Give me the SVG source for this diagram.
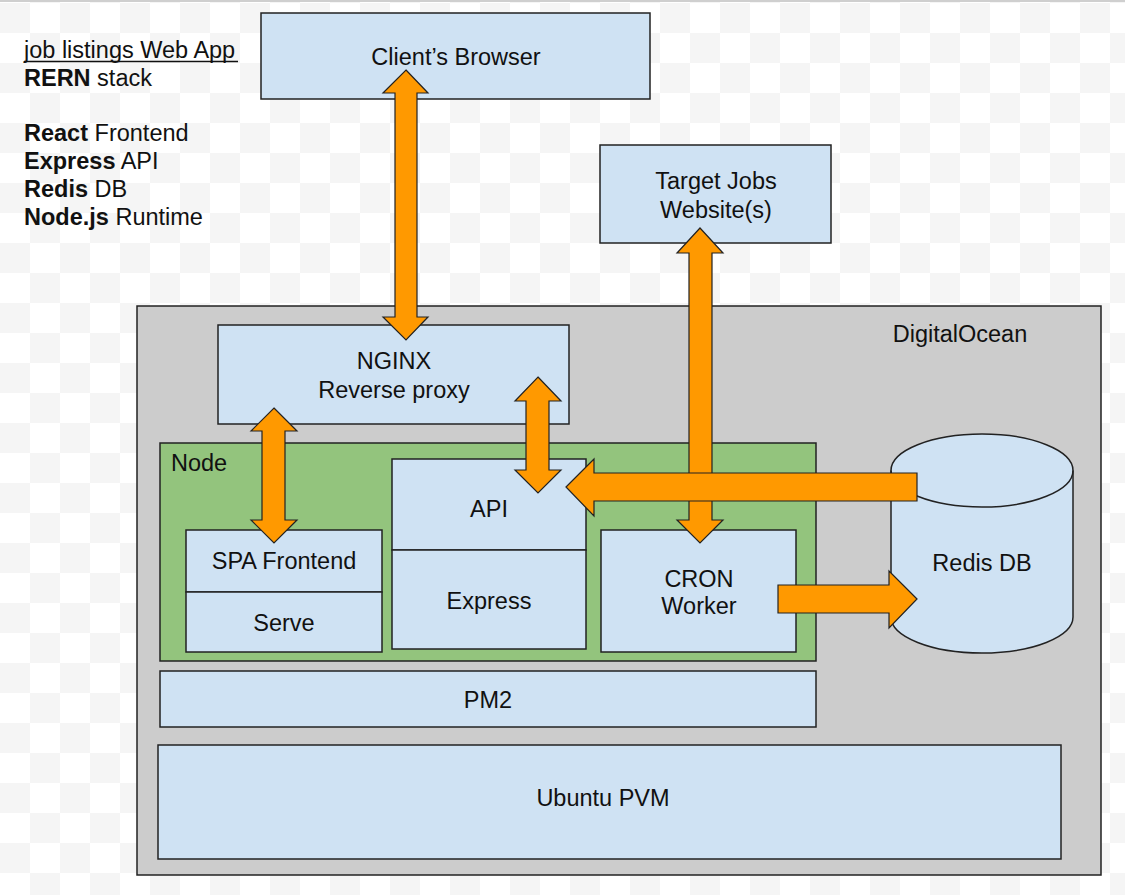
<svg xmlns="http://www.w3.org/2000/svg" width="1125" height="895" viewBox="0 0 1125 895">
<defs>
<pattern id="checker" x="0" y="3" width="60" height="60" patternUnits="userSpaceOnUse">
<rect width="60" height="60" fill="#ffffff"/>
<rect x="0" y="0" width="30" height="30" fill="#f5f5f5"/>
<rect x="30" y="30" width="30" height="30" fill="#f5f5f5"/>
</pattern>
</defs>
<style>
text{font-family:"Liberation Sans",Arial,sans-serif;font-size:23.5px;fill:#111;}
.c{text-anchor:middle;dominant-baseline:central;}
.blue{fill:#cfe2f3;stroke:#222;stroke-width:1.5;}
.grey{fill:#cccccc;stroke:#222;stroke-width:1.5;}
.green{fill:#93c47d;stroke:#222;stroke-width:1.5;}
.arr{fill:#ff9900;stroke:#222;stroke-width:1.2;stroke-linejoin:miter;}
.b{font-weight:bold;}
</style>
<rect width="1125" height="895" fill="url(#checker)"/>
<rect x="0" y="0" width="1125" height="2" fill="#cfcfcf"/>

<g id="legend">
<text x="24" y="58">job listings Web App</text>
<line x1="24" y1="61.5" x2="238" y2="61.5" stroke="#111" stroke-width="1.3"/>
<text x="24" y="86"><tspan class="b">RERN</tspan> stack</text>
<text x="24" y="141"><tspan class="b">React</tspan> Frontend</text>
<text x="24" y="169"><tspan class="b">Express</tspan> API</text>
<text x="24" y="197"><tspan class="b">Redis</tspan> DB</text>
<text x="24" y="225"><tspan class="b">Node.js</tspan> Runtime</text>
</g>

<g id="client-browser">
<rect class="blue" x="261" y="13" width="389" height="86"/>
<text class="c" x="456" y="57">Client’s Browser</text>
</g>

<g id="target-jobs">
<rect class="blue" x="600" y="145" width="231" height="98"/>
<text class="c" x="716" y="181">Target Jobs</text>
<text class="c" x="716" y="210">Website(s)</text>
</g>

<g id="digitalocean">
<rect class="grey" x="137" y="306" width="964" height="569"/>
<text class="c" x="960" y="334">DigitalOcean</text>
</g>

<g id="nginx">
<rect class="blue" x="218" y="325" width="351" height="99"/>
<text class="c" x="394" y="361">NGINX</text>
<text class="c" x="394" y="390">Reverse proxy</text>
</g>

<g id="node">
<rect class="green" x="160" y="443" width="656" height="218"/>
<text x="171" y="471">Node</text>
</g>

<g id="spa-frontend">
<rect class="blue" x="186" y="530" width="196" height="62"/>
<text class="c" x="284" y="561">SPA Frontend</text>
</g>
<g id="serve">
<rect class="blue" x="186" y="592" width="196" height="60"/>
<text class="c" x="284" y="623">Serve</text>
</g>

<g id="api">
<rect class="blue" x="392" y="459" width="194" height="91"/>
<text class="c" x="489" y="509">API</text>
</g>
<g id="express">
<rect class="blue" x="392" y="550" width="194" height="99"/>
<text class="c" x="489" y="601">Express</text>
</g>

<g id="cron-worker">
<rect class="blue" x="601" y="530" width="195" height="122"/>
<text class="c" x="699" y="579">CRON</text>
<text class="c" x="699" y="606">Worker</text>
</g>

<g id="pm2">
<rect class="blue" x="160" y="671" width="656" height="56"/>
<text class="c" x="488" y="700">PM2</text>
</g>

<g id="ubuntu-pvm">
<rect class="blue" x="158" y="745" width="903" height="114"/>
<text class="c" x="603" y="798">Ubuntu PVM</text>
</g>

<g id="redis-db">
<path class="blue" d="M891,470.5 L891,617 A91,36 0 0 0 1073,617 L1073,470.5 A91,36.5 0 0 0 891,470.5 Z"/>
<path d="M891,470.5 A91,36.5 0 0 0 1073,470.5" fill="none" stroke="#222" stroke-width="1.5"/>
<text class="c" x="982" y="563">Redis DB</text>
</g>

<g id="connectors">
<!-- Client's Browser <-> NGINX -->
<polygon class="arr" points="406,70 428,93 417,93 417,317 428,317 406,340 383,317 395,317 395,93 383,93"/>
<!-- NGINX <-> SPA Frontend -->
<polygon class="arr" points="274,408 297,431 285,431 285,520 297,520 274,543 251,520 262,520 262,431 251,431"/>
<!-- NGINX <-> API -->
<polygon class="arr" points="538,377 561,401 549,401 549,470 561,470 538,493 515,470 526,470 526,401 515,401"/>
<!-- Target Jobs <-> CRON Worker -->
<polygon class="arr" points="700,228 723,253 712,253 712,520 723,520 700,543 677,520 689,520 689,253 677,253"/>
<!-- Redis DB -> API -->
<polygon class="arr" points="566,487 594,459 594,473 917,473 917,501 594,501 594,516"/>
<!-- CRON Worker -> Redis DB -->
<polygon class="arr" points="917,599 889,571 889,585 778,585 778,613 889,613 889,628"/>
</g>
</svg>
